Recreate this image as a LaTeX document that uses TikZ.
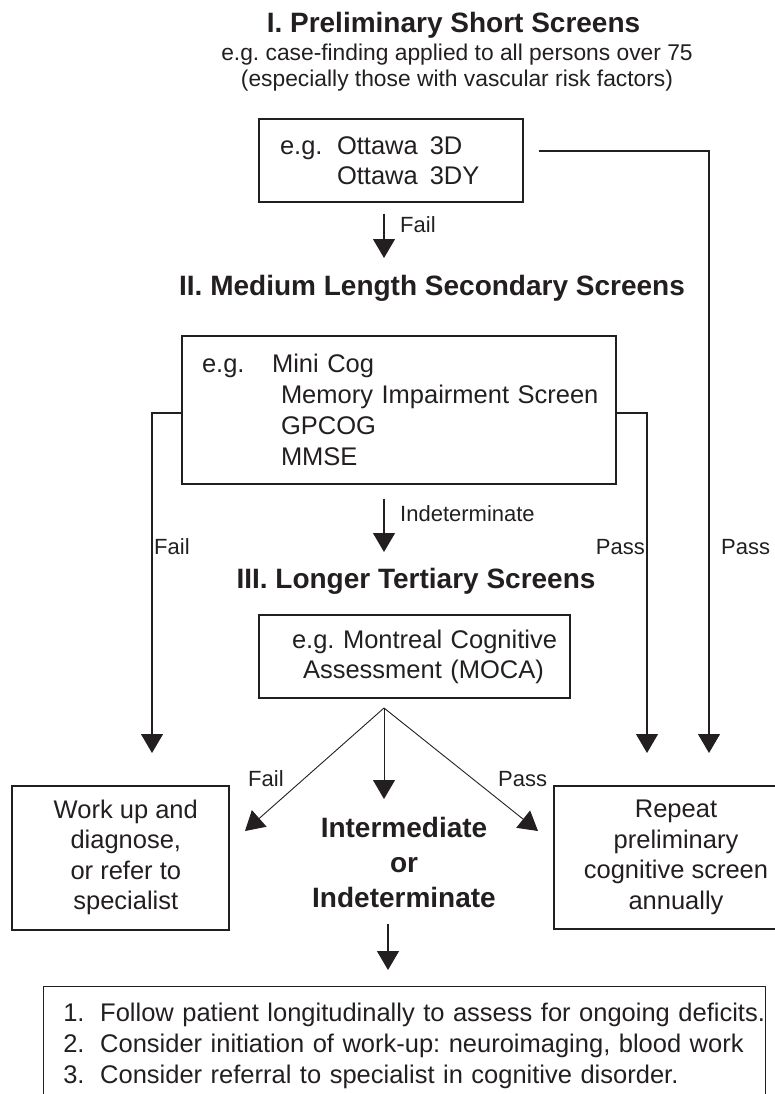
\documentclass[tikz,border=0pt]{standalone}
\usepackage{fontspec}
\setmainfont{Liberation Sans}
\usetikzlibrary{arrows.meta,positioning}
\definecolor{ink}{HTML}{231F20}
\frenchspacing
\tikzset{
  screenbox/.style={draw=ink, line width=1.1pt, inner sep=0pt, text=ink,
    font=\fontsize{25.5}{30.5}\selectfont},
  heading/.style={text=ink, inner sep=0pt, font=\fontsize{28}{35}\selectfont\bfseries},
  note/.style={text=ink, inner sep=0pt, font=\fontsize{22.8}{26}\selectfont},
  lbl/.style={text=ink, inner sep=0pt, font=\fontsize{22}{26}\selectfont},
  flow/.style={draw=ink, line width=1.1pt, -{Triangle[width=22pt,length=19pt]}},
}
\begin{document}
\begin{tikzpicture}[x=1pt,y=-1pt]
\useasboundingbox (0,0) rectangle (774,1094);

% stage I
\node[heading, anchor=base] (stageI) at (453.5,33) {I. Preliminary Short Screens};
\node[note, align=center] (stageInote) at (457,68)
  {e.g. case-finding applied to all persons over 75\\(especially those with vascular risk factors)};
\node[screenbox, minimum width=264pt, minimum height=83pt, text width=264pt, align=left]
  (ottawa) at (391,160.5)
  {\hspace*{21pt}e.g.\hspace{14.5pt}Ottawa\hspace{12pt}3D\\\hspace*{78pt}Ottawa\hspace{12pt}3DY};

% stage II
\node[heading, anchor=base] (stageII) at (432,295) {II. Medium Length Secondary Screens};
\node[screenbox, minimum width=434pt, minimum height=148pt, text width=434pt, align=left,
  font=\fontsize{25.5}{31}\selectfont] (minicog) at (399,410)
  {\hspace*{20pt}e.g.\hspace{27.5pt}Mini Cog\\\hspace*{99pt}Memory Impairment Screen\\
   \hspace*{99pt}GPCOG\\\hspace*{99pt}MMSE};

% stage III
\node[heading, anchor=base] (stageIII) at (416,588) {III. Longer Tertiary Screens};
\node[screenbox, minimum width=311pt, minimum height=83pt, text width=311pt, align=left,
  font=\fontsize{25.5}{30}\selectfont] (moca) at (414.5,656.5)
  {\hspace*{33pt}e.g. Montreal Cognitive\\\hspace*{44pt}Assessment (MOCA)};

% outcomes
\node[screenbox, minimum width=217pt, minimum height=144pt] (workup) at (120.5,858)
  {\begin{tabular}{@{\hspace{10.6pt}}c@{}}Work up and\\diagnose,\\or refer to\\specialist\end{tabular}};
\node[screenbox, minimum width=244pt, minimum height=143pt, align=center] (annual) at (676,857.5)
  {Repeat\\preliminary\\cognitive screen\\annually};
\node[heading, align=center] (interm) at (404,862) {Intermediate\\or\\Indeterminate};
\node[screenbox, anchor=north west, text width=722pt, inner ysep=16.5pt, align=left,
  font=\fontsize{25.5}{31}\selectfont] (followup) at (42.7,986)
  {\hspace*{20pt}1.\hspace{15.7pt}Follow patient longitudinally to assess for ongoing deficits.\\
   \hspace*{20pt}2.\hspace{15.7pt}Consider initiation of work-up: neuroimaging, blood work\\
   \hspace*{20pt}3.\hspace{15.7pt}Consider referral to specialist in cognitive disorder.};

% connectors
\coordinate (failtipI) at (384,258);
\coordinate (passtipR) at (709,753);
\coordinate (failtipL) at (152,753);
\coordinate (passtipM) at (647,753);
\coordinate (indtip) at (384,552);
\coordinate (fan) at (384,708);
\coordinate (tipfail) at (245,831);
\coordinate (tipinter) at (384,799);
\coordinate (tippass) at (538,831);
\coordinate (nexttip) at (388,970);

\draw[flow, shorten <=11pt] (ottawa.south -| failtipI) -- (failtipI);
\draw[flow] ([shift={(15,-9.5)}]ottawa.east) -| (passtipR);
\draw[flow] ([yshift=-3pt]minicog.west) -| (failtipL);
\draw[flow] ([yshift=-3pt]minicog.east) -| (passtipM);
\draw[flow, shorten <=14pt] (minicog.south -| indtip) -- (indtip);
\foreach \t in {tipfail,tipinter,tippass}
  \draw[flow, line width=0.9pt] (fan) -- (\t);
\draw[flow, shorten <=17pt] (interm.south -| nexttip) -- (nexttip);

% labels
\node[lbl, anchor=base west] (failI) at (400,232) {Fail};
\node[lbl, anchor=base west] (indet) at (400,521) {Indeterminate};
\node[lbl, anchor=base west] (failL) at (154,554) {Fail};
\node[lbl, anchor=base east] (passM) at (645,554) {Pass};
\node[lbl, anchor=base west] (passR) at (721,554) {Pass};
\node[lbl, anchor=base west] (failF) at (248,786) {Fail};
\node[lbl, anchor=base west] (passF) at (498,786) {Pass};
\end{tikzpicture}
\end{document}
